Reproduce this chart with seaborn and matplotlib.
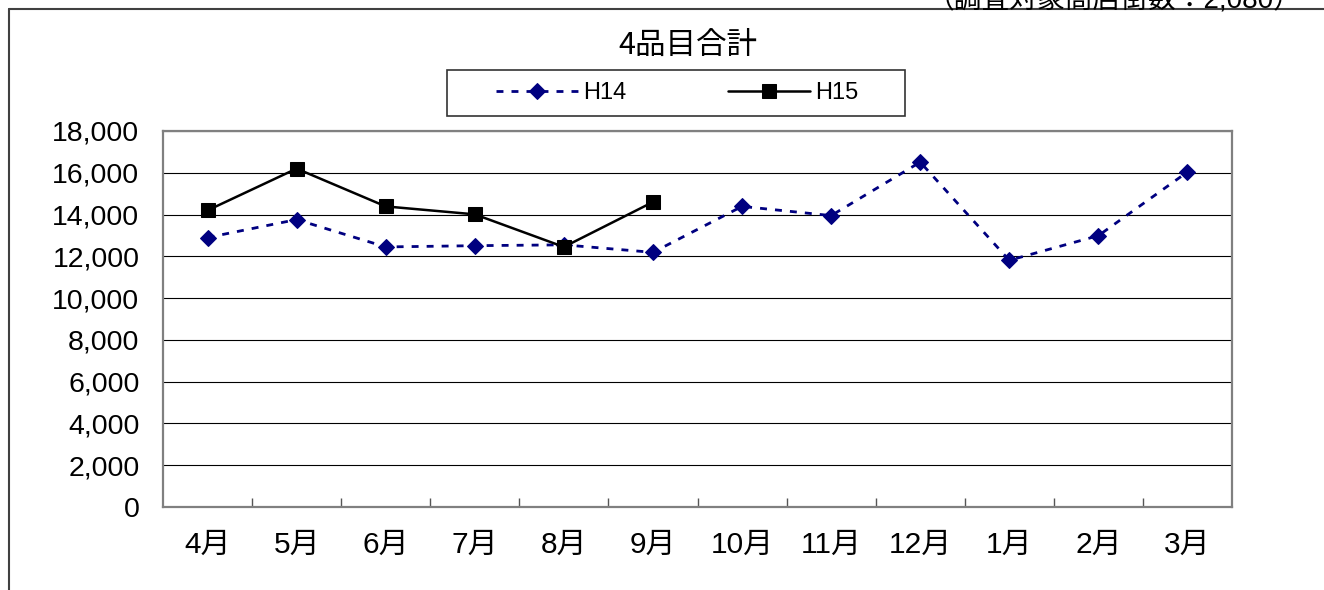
import pandas as pd
import matplotlib
matplotlib.use('Agg')
import matplotlib.pyplot as plt
from matplotlib.lines import Line2D
from matplotlib.patches import Rectangle
from matplotlib.ticker import FixedLocator
import seaborn as sns

# データ
months = ['4月', '5月', '6月', '7月', '8月', '9月', '10月', '11月', '12月', '1月', '2月', '3月']
h14 = [12900, 13760, 12450, 12510, 12550, 12190, 14390, 13950, 16510, 11810, 12990, 16040]
h15 = [14200, 16200, 14390, 14010, 12450, 14600]
y_ticks = [0, 2000, 4000, 6000, 8000, 10000, 12000, 14000, 16000, 18000]
title = '4品目合計'
note = '（調査対象商店街数：2,080）'

df14 = pd.DataFrame({'月': months, '件数': h14})
df15 = pd.DataFrame({'月': months[:len(h15)], '件数': h15})

sns.set_theme(style='white')
plt.rcParams['font.family'] = ['Liberation Sans', 'Noto Sans CJK JP', 'DejaVu Sans']
plt.rcParams['text.color'] = 'black'
plt.rcParams['xtick.color'] = 'black'
plt.rcParams['ytick.color'] = 'black'

fig = plt.figure(figsize=(13.24, 5.90), dpi=100)
ax = fig.add_axes([163 / 1324, 83 / 590, 1069 / 1324, 376 / 590])

sns.lineplot(data=df14, x='月', y='件数', ax=ax, sort=False, color='#000080',
             linewidth=2, linestyle=(0, (2.5, 2.9)), marker='D', markersize=8,
             markeredgecolor='#000080', markerfacecolor='#000080', label='H14')
sns.lineplot(data=df15, x='月', y='件数', ax=ax, sort=False, color='black',
             linewidth=1.8, marker='s', markersize=10,
             markeredgecolor='black', markerfacecolor='black', label='H15')

ax.set_xlim(-0.5, len(months) - 0.5)
ax.set_ylim(0, 18000)
ax.set_xticks(range(len(months)))
ax.set_xticklabels(months, fontsize=21.5)
ax.xaxis.set_minor_locator(FixedLocator([i + 0.5 for i in range(len(months) - 1)]))
ax.tick_params(axis='x', which='major', length=0, pad=17)
ax.tick_params(axis='x', which='minor', bottom=True, direction='in', length=6.5,
               width=1, color='#555555')
ax.set_yticks(y_ticks)
ax.set_yticklabels([f'{v:,}' for v in y_ticks], fontsize=20.5)
ax.tick_params(axis='y', length=0, pad=17)
ax.set_xlabel('')
ax.set_ylabel('')
ax.grid(axis='y', color='black', linewidth=0.8)
ax.grid(axis='x', visible=False)
for s in ax.spines.values():
    s.set_visible(True)
    s.set_color('#808080')
    s.set_linewidth(1.6)

ax.get_legend().remove()
handles, labels = ax.get_legend_handles_labels()
fig.add_artist(Rectangle((447 / 1324, 1 - 116 / 590), 458 / 1324, 46 / 590,
                         transform=fig.transFigure, fill=False,
                         edgecolor='#333333', linewidth=1.2))
fig.legend(handles, labels, ncol=2, loc='center', bbox_to_anchor=(677 / 1324, 1 - 93 / 590),
           fontsize=17, frameon=False, handlelength=3.5, handletextpad=0.2,
           columnspacing=4.3, borderpad=0, borderaxespad=0)

fig.text(688 / 1324, 1 - 45 / 590, title, ha='center', va='center', fontsize=22,
         family=['Noto Sans CJK JP', 'DejaVu Sans'])
fig.text(1302 / 1324, 1 - 8 / 590, note, ha='right', va='baseline', fontsize=20)

# 外枠
fig.add_artist(Line2D([9 / 1324, 9 / 1324], [0, 1 - 9 / 590], color='#404040', linewidth=1.5))
fig.add_artist(Line2D([9 / 1324, 1], [1 - 9 / 590, 1 - 9 / 590], color='#404040', linewidth=1.5))

fig.savefig('out.png', dpi=100)
